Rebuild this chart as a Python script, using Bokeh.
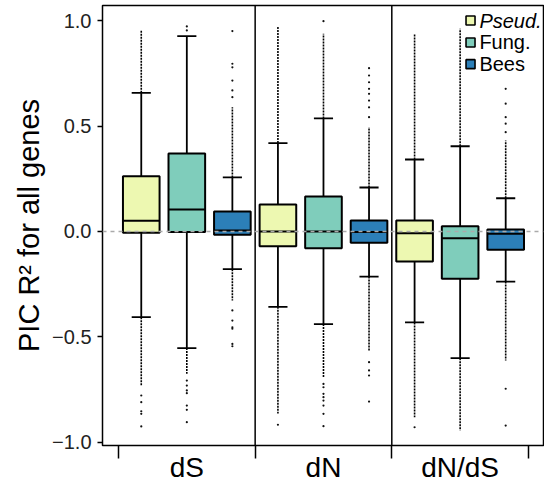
from bokeh.plotting import figure
from bokeh.models import Range1d, FixedTicker, Span, ColumnDataSource
from bokeh.core.properties import value
from bokeh.embed import file_html
from bokeh.resources import INLINE

# ---------------- data ----------------
groups = ["dS", "dN", "dN/dS"]
species = ["Pseud.", "Fung.", "Bees"]
colors = ["#edf8b1", "#7fcdbb", "#2c7fb8"]

# box statistics, order: dS(Pseud, Fung, Bees), dN(...), dN/dS(...)
lower_whisker = [-0.407, -0.554, -0.179, -0.358, -0.440, -0.214, -0.432, -0.602, -0.238]
q1 = [-0.006, -0.002, -0.016, -0.070, -0.079, -0.054, -0.143, -0.225, -0.087]
median = [0.051, 0.105, 0.005, 0.000, 0.000, -0.002, -0.008, -0.032, -0.011]
q3 = [0.263, 0.371, 0.095, 0.128, 0.166, 0.052, 0.052, 0.025, 0.010]
upper_whisker = [0.659, 0.928, 0.257, 0.420, 0.537, 0.209, 0.342, 0.405, 0.158]

# extent of the dense runs of outliers beyond each whisker
dense_upper = [0.958, 0.928, 0.590, 0.971, 0.939, 0.495, 0.939, 0.963, 0.432]
dense_lower = [-0.732, -0.676, -0.328, -0.865, -0.692, -0.565, -0.882, -0.945, -0.613]

# sparse individual outliers
sparse_outliers = [
    [-0.779, -0.811, -0.854, -0.866, -0.926],
    [0.955, 0.974, -0.708, -0.732, -0.755, -0.768, -0.827, -0.847, -0.906],
    [0.638, 0.670, 0.717, 0.780, 0.797, 0.952, -0.375, -0.423, -0.455, -0.462, -0.534, -0.545],
    [-0.918],
    [0.999, -0.724, -0.740, -0.771, -0.787, -0.803, -0.827, -0.866, -0.925],
    [0.543, 0.590, 0.622, 0.654, 0.678, 0.709, 0.741, 0.776, -0.621, -0.660, -0.684, -0.808],
    [-0.930],
    [],
    [0.472, 0.512, 0.543, 0.607, 0.678, -0.747, -0.922],
]

y_ticks = [-1.0, -0.5, 0.0, 0.5, 1.0]
y_tick_labels = ["\u22121.0", "\u22120.5", "0.0", "0.5", "1.0"]

# ---------------- layout ----------------
FONT = "Liberation Sans"
offset = 1 / 3
box_w = 0.268
cap_w = 0.14

xs, fills = [], []
for g in range(len(groups)):
    for s in range(len(species)):
        xs.append(g + 0.5 + (s - 1) * offset)
        fills.append(colors[s])

p = figure(frame_width=441, frame_height=440,
           x_range=Range1d(-0.117, 3.110), y_range=Range1d(-1.0166, 1.0736),
           output_backend="svg", toolbar_location=None,
           min_border_left=102, min_border_right=1, min_border_top=5, min_border_bottom=0)
p.background_fill_color = "white"
p.border_fill_color = "white"
p.outline_line_color = "black"
p.outline_line_width = 1.5
p.xgrid.visible = False
p.ygrid.visible = False

src = ColumnDataSource(dict(
    x=xs, fill=fills, lw=lower_whisker, q1=q1, med=median, q3=q3, uw=upper_whisker,
    du=dense_upper, dl=dense_lower,
    left=[x - box_w / 2 for x in xs], right=[x + box_w / 2 for x in xs],
    cl=[x - cap_w / 2 for x in xs], cr=[x + cap_w / 2 for x in xs],
))

# dense outlier runs
p.segment(x0="x", y0="uw", x1="x", y1="du", source=src, line_color="black",
          line_width=1.6, line_dash="2 1")
p.segment(x0="x", y0="lw", x1="x", y1="dl", source=src, line_color="black",
          line_width=1.6, line_dash="2 1")

# sparse outliers
ox, oy = [], []
for x, outs in zip(xs, sparse_outliers):
    for v in outs:
        ox.append(x)
        oy.append(v)
p.scatter(ox, oy, size=2.2, color="#111111", line_color=None)

# whiskers
p.segment(x0="x", y0="lw", x1="x", y1="uw", source=src, line_color="black", line_width=1.8)
p.segment(x0="cl", y0="uw", x1="cr", y1="uw", source=src, line_color="black", line_width=1.8)
p.segment(x0="cl", y0="lw", x1="cr", y1="lw", source=src, line_color="black", line_width=1.8)

# boxes
p.quad(left="left", right="right", bottom="q1", top="q3", source=src,
       fill_color="fill", line_color="black", line_width=2)
p.segment(x0="left", y0="med", x1="right", y1="med", source=src, line_color="black", line_width=2)

# group separators and zero line
for b in range(1, len(groups)):
    p.add_layout(Span(location=b, dimension="height", line_color="black", line_width=1.5))
p.add_layout(Span(location=0, dimension="width", line_color="#aaaaaa", line_width=1.6,
                  line_dash="4 4"))

# legend (drawn manually so that only the first label is italic)
leg_x = 2.576
leg_tx = 2.641
leg_y = [1.002, 0.898, 0.795]
p.scatter([leg_x] * 3, leg_y, marker="square", size=9, fill_color=colors,
          line_color="black", line_width=1.6)
for i, name in enumerate(species):
    p.text([leg_tx], [leg_y[i]], text=[name], text_font=value(FONT), text_font_size="20px",
           text_baseline="middle", text_align="left", text_color="black",
           text_font_style="italic" if i == 0 else "normal")

# axes
p.yaxis.ticker = FixedTicker(ticks=y_ticks)
p.yaxis.major_label_overrides = {t: l for t, l in zip(y_ticks, y_tick_labels)}
p.yaxis.axis_label = "PIC R\u00b2 for all genes"
p.yaxis.axis_label_text_font = FONT
p.yaxis.axis_label_text_font_size = "29px"
p.yaxis.axis_label_text_font_style = "normal"
p.yaxis.axis_label_text_color = "black"
p.yaxis.axis_label_standoff = 4
p.yaxis.major_label_text_font = FONT
p.yaxis.major_label_text_font_size = "20px"
p.yaxis.major_label_text_color = "#222222"
p.yaxis.major_label_standoff = 6
p.yaxis.major_tick_out = 5
p.yaxis.major_tick_in = 0
p.yaxis.major_tick_line_width = 1.5
p.yaxis.major_tick_line_color = "black"
p.yaxis.minor_tick_line_color = None
p.yaxis.axis_line_color = None

centers = [g + 0.5 for g in range(len(groups))]
bounds = [float(g) for g in range(len(groups) + 1)]
p.xaxis.ticker = FixedTicker(ticks=centers, minor_ticks=bounds)
p.xaxis.major_label_overrides = {c: g for c, g in zip(centers, groups)}
p.xaxis.major_label_text_font = FONT
p.xaxis.major_label_text_font_size = "28px"
p.xaxis.major_label_text_color = "black"
p.xaxis.major_label_standoff = -7
p.xaxis.major_tick_out = 0
p.xaxis.major_tick_in = 0
p.xaxis.major_tick_line_color = None
p.xaxis.minor_tick_out = 13
p.xaxis.minor_tick_in = 0
p.xaxis.minor_tick_line_width = 1.5
p.xaxis.minor_tick_line_color = "black"
p.xaxis.axis_line_color = None

open("out.html", "w").write(file_html(p, INLINE))
